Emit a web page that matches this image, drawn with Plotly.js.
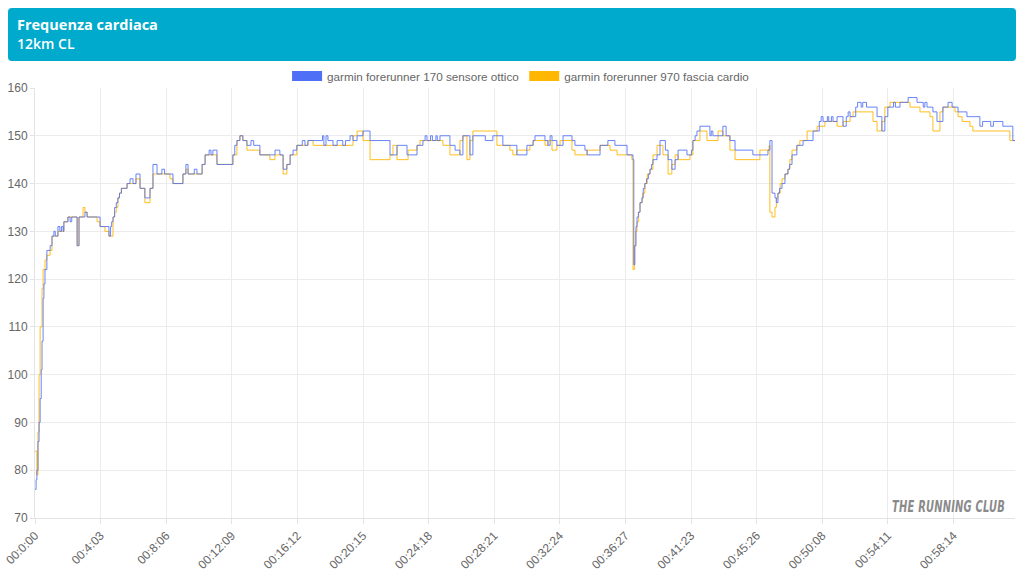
<!DOCTYPE html>
<html>
<head>
<meta charset="utf-8">
<script src="https://cdn.plot.ly/plotly-3.0.1.min.js"></script>
<style>
  html, body { margin: 0; padding: 0; background: #fff; }
  #wrap { position: relative; width: 1024px; height: 576px; }
  #chart { position: absolute; left: 0; top: 0; width: 1024px; height: 576px; }
  #banner {
    position: absolute; left: 8px; top: 8px; width: 1008px; height: 53px;
    background: #00aacc; border-radius: 4px; z-index: 5; pointer-events: none;
    font-family: "Open Sans", "Noto Sans", sans-serif; color: #fff; box-sizing: border-box;
    padding: 7px 0 0 9px;
  }
  #banner .t1 { font-size: 14.5px; font-weight: 700; line-height: 19px; }
  #banner .t2 { font-size: 14px; font-weight: 600; line-height: 19px; }
  #mark {
    position: absolute; right: 19px; top: 498px; z-index: 5; pointer-events: none;
    font-family: "DejaVu Sans", sans-serif; font-weight: 700; font-style: italic;
    font-size: 15px; line-height: 18px; color: #8a8a8a; white-space: nowrap;
    transform: scaleX(0.66); transform-origin: right center; letter-spacing: 0.3px;
  }
</style>
</head>
<body>
<div id="wrap">
  <div id="chart"></div>
  <div id="banner"><div class="t1">Frequenza cardiaca</div><div class="t2">12km CL</div></div>
  <div id="mark">THE RUNNING CLUB</div>
</div>
<script>
// Tick labels (one every 243 samples on a sample-index axis)
const tickLabels = ["00:0:00","00:4:03","00:8:06","00:12:09","00:16:12","00:20:15","00:24:18",
  "00:28:21","00:32:24","00:36:27","00:41:23","00:45:26","00:50:08","00:54:11","00:58:14"];
const tickPositions = [0,243,486,729,972,1215,1458,1701,1944,2187,2430,2673,2916,3159,3402];
const totalSamples = 3630;

const seriesNames = ["garmin forerunner 170 sensore ottico", "garmin forerunner 970 fascia cardio"];

// garmin forerunner 170 (optical) – sample index / heart rate
const opticalIdx = [0,4,7,11,15,19,23,26,30,33,37,44,56,63,70,75,81,85,92,98,104,107,119,122,130,136,148,156,163,178,185,193,230,241,259,274,280,284,289,295,301,307,313,320,326,341,352,363,374,389,407,426,437,452,470,480,500,511,537,548,559,567,590,600,611,619,630,645,652,659,674,722,733,740,748,759,770,785,800,810,822,833,870,889,907,919,933,945,956,970,990,1000,1007,1011,1030,1056,1065,1070,1078,1085,1104,1119,1140,1150,1167,1178,1193,1215,1241,1315,1326,1341,1378,1382,1415,1426,1437,1445,1452,1465,1472,1485,1490,1500,1511,1537,1556,1574,1585,1600,1611,1622,1648,1660,1668,1696,1711,1733,1759,1770,1785,1822,1833,1845,1852,1889,1900,1908,1915,1933,1945,1956,1989,2000,2037,2045,2093,2111,2122,2130,2148,2156,2193,2211,2215,2218,2222,2226,2230,2235,2241,2248,2253,2259,2265,2272,2278,2284,2289,2304,2315,2326,2335,2345,2359,2371,2382,2415,2426,2432,2437,2445,2452,2463,2474,2489,2500,2505,2511,2530,2548,2560,2574,2593,2659,2685,2715,2719,2722,2730,2741,2746,2752,2758,2767,2778,2784,2789,2795,2804,2822,2833,2845,2860,2882,2897,2905,2912,2919,2926,2935,2940,2950,2956,2971,2974,2993,3005,3012,3019,3030,3040,3047,3060,3066,3080,3086,3093,3104,3119,3137,3148,3159,3167,3180,3187,3204,3211,3234,3241,3267,3278,3290,3296,3304,3315,3326,3341,3352,3363,3375,3382,3397,3408,3419,3434,3452,3463,3474,3500,3510,3540,3550,3585,3600,3611,3622,3630];
const opticalHR = [76,78,80,86,90,95,101,107,116,119,122,126,127,129,130,129,129,131,130,131,130,132,132,133,132,133,133,127,133,133,134,133,133,131,131,129,131,132,133,135,136,137,138,139,139,140,141,140,142,139,137,139,144,142,143,142,142,140,140,142,144,142,143,142,142,144,146,147,146,147,144,144,146,148,149,150,149,148,149,148,148,146,146,147,146,143,144,146,147,148,149,148,148,149,149,149,150,148,150,149,148,149,148,149,150,149,150,151,149,146,146,148,146,146,148,148,149,150,149,150,149,150,149,150,150,148,147,146,150,150,146,150,150,150,149,150,150,148,148,148,146,148,148,149,150,149,148,150,149,148,148,150,149,148,147,146,148,148,149,149,148,148,146,146,145,123,127,131,133,134,136,137,139,140,141,142,143,144,145,146,149,149,147,145,143,145,147,146,146,147,149,150,151,152,152,152,150,151,150,150,152,150,149,147,146,146,147,147,149,138,137,136,138,139,140,142,142,143,144,146,148,148,149,149,151,151,153,154,153,153,154,153,154,153,154,154,152,154,155,154,154,156,157,156,157,156,156,156,156,154,151,154,156,156,157,156,157,157,158,158,157,157,156,157,156,156,155,153,153,156,156,157,156,156,155,155,154,154,154,152,153,152,153,152,152,152,149,149,149];

// garmin forerunner 970 (chest strap) – sample index / heart rate
const strapIdx = [0,7,11,15,19,26,30,37,44,56,63,81,85,104,107,119,122,148,156,163,178,185,193,230,241,259,274,289,295,301,307,313,320,326,341,363,374,389,407,426,437,452,500,511,537,548,559,567,611,619,630,659,674,722,733,748,759,770,785,822,833,870,889,907,919,933,945,970,1007,1011,1030,1056,1085,1104,1119,1167,1178,1193,1215,1241,1315,1326,1341,1378,1382,1415,1426,1437,1500,1511,1537,1556,1574,1585,1600,1611,1622,1696,1711,1733,1759,1770,1785,1822,1833,1845,1852,1889,1900,1908,1915,1933,1945,1956,1989,2000,2037,2045,2093,2111,2122,2130,2148,2156,2193,2211,2215,2220,2225,2230,2236,2241,2250,2259,2268,2278,2289,2304,2315,2326,2345,2359,2371,2382,2415,2426,2437,2463,2474,2489,2511,2530,2548,2574,2593,2659,2685,2715,2719,2722,2730,2741,2746,2752,2760,2767,2778,2789,2796,2804,2822,2833,2845,2860,2882,2897,2919,2926,2971,2974,2993,3019,3030,3093,3104,3119,3137,3148,3159,3167,3204,3211,3234,3241,3267,3278,3304,3315,3326,3341,3352,3363,3397,3408,3419,3434,3452,3463,3474,3585,3600,3611,3622,3630];
const strapHR = [84,79,88,100,110,118,122,124,125,126,129,129,130,130,132,132,133,133,127,133,135,134,133,132,131,130,129,133,134,135,137,138,139,139,140,140,141,139,136,139,142,142,141,140,140,142,143,142,142,144,146,146,144,144,146,149,150,149,147,147,146,145,146,146,142,144,146,148,148,149,148,148,148,148,148,148,150,151,149,145,146,148,145,145,147,148,149,149,149,148,146,146,149,150,145,149,151,151,148,148,147,146,147,147,148,149,149,148,149,149,147,148,149,149,147,146,146,147,148,148,148,147,147,146,146,145,122,127,130,132,134,136,138,140,142,143,146,148,148,146,142,144,146,145,145,146,149,151,151,149,149,151,150,147,145,145,147,147,148,134,133,135,137,138,140,141,142,143,145,147,148,149,149,151,151,152,152,153,152,152,153,154,155,155,153,151,153,156,156,157,157,157,157,156,156,155,155,154,151,151,155,156,156,155,154,153,153,152,151,151,151,149,149,149];

const blue = "#4f6ff6";
const orange = "#ffb703";

const traces = [
  { x: strapIdx, y: strapHR, type: "scatter", mode: "lines", name: seriesNames[1],
    line: { color: "rgba(255,183,3,0.9)", width: 1, shape: "hv" }, showlegend: false, hoverinfo: "skip" },
  { x: opticalIdx, y: opticalHR, type: "scatter", mode: "lines", name: seriesNames[0],
    line: { color: "rgba(79,111,246,0.85)", width: 1, shape: "hv" }, showlegend: false, hoverinfo: "skip" },
  { x: [null], y: [null], type: "scatter", mode: "lines", name: seriesNames[0],
    line: { color: blue, width: 11 }, showlegend: true, hoverinfo: "skip" },
  { x: [null], y: [null], type: "scatter", mode: "lines", name: seriesNames[1],
    line: { color: orange, width: 11 }, showlegend: true, hoverinfo: "skip" }
];

const layout = {
  width: 1024, height: 576,
  margin: { l: 35, r: 9, t: 88, b: 58, pad: 0 },
  paper_bgcolor: "#ffffff", plot_bgcolor: "#ffffff",
  font: { family: "Arial, 'Liberation Sans', sans-serif", size: 12, color: "#666666" },
  showlegend: true,
  legend: { orientation: "h", x: 0.496, xanchor: "center", y: 1.028, yanchor: "middle",
    font: { size: 11.7, color: "#666666" }, bgcolor: "rgba(0,0,0,0)", itemwidth: 30, traceorder: "normal" },
  xaxis: {
    range: [0, totalSamples], tickmode: "array", tickvals: tickPositions, ticktext: tickLabels,
    tickangle: -45, showgrid: true, gridcolor: "#ececec", gridwidth: 1,
    showline: true, linecolor: "#e3e3e3", linewidth: 1, zeroline: false,
    ticks: "outside", ticklen: 5, tickcolor: "#e3e3e3",
    tickfont: { size: 12, color: "#666666" }, fixedrange: true
  },
  yaxis: {
    range: [70, 160], dtick: 10, tick0: 70, showgrid: true, gridcolor: "#ececec", gridwidth: 1,
    showline: true, linecolor: "#e3e3e3", linewidth: 1, zeroline: false,
    ticks: "outside", ticklen: 4, tickcolor: "#e3e3e3",
    tickfont: { size: 12, color: "#666666" }, fixedrange: true
  }
};

Plotly.newPlot("chart", traces, layout, { displayModeBar: false, staticPlot: true });
</script>
</body>
</html>
